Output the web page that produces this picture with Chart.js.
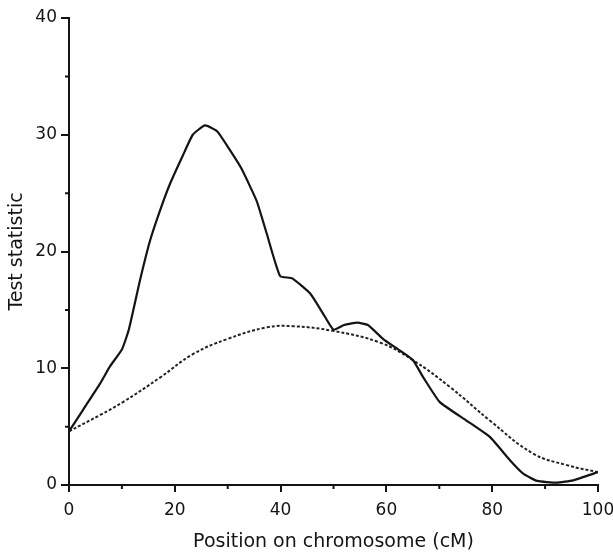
<!DOCTYPE html>
<html>
<head>
<meta charset="utf-8">
<script src="https://cdn.jsdelivr.net/npm/chart.js@4"></script>
<style>
html,body{margin:0;padding:0;background:#fff;}
#wrap{width:613px;height:553px;}
</style>
</head>
<body>
<div id="wrap"><canvas id="c" width="613" height="553"></canvas></div>
<script>
const xTicks = [0, 20, 40, 60, 80, 100];
const yTicks = [0, 10, 20, 30, 40];
const xMinor = [10, 30, 50, 70, 90];
const yMinor = [5, 15, 25, 35];

const solidX = [0, 2.6, 5.9, 7.8, 10, 11.3, 13.4, 15.3, 17.2, 19.1, 21.5, 23.4, 25.7, 28, 30.4, 32.6, 35.5, 37.4, 39.9, 42.2, 45.6, 48, 50, 52, 54.5, 56.5, 59.4, 62.6, 65, 67, 70.1, 75.2, 79.6, 83.4, 85.8, 88.5, 92.2, 95.3, 100];
const solidY = [4.6, 6.4, 8.7, 10.2, 11.6, 13.3, 17.5, 20.9, 23.5, 25.8, 28.2, 30.0, 30.8, 30.3, 28.7, 27.1, 24.3, 21.5, 17.9, 17.7, 16.4, 14.7, 13.3, 13.7, 13.9, 13.7, 12.5, 11.5, 10.7, 9.2, 7.1, 5.5, 4.1, 2.1, 1.0, 0.35, 0.2, 0.4, 1.1];

const dashX = [0, 5.9, 10.2, 17.2, 23.4, 29.9, 37.4, 42.4, 49.9, 58.8, 65, 72, 79.6, 87.7, 94.1, 100];
const dashY = [4.6, 6.0, 7.1, 9.2, 11.2, 12.5, 13.5, 13.6, 13.2, 12.2, 10.7, 8.4, 5.5, 2.7, 1.7, 1.1];

const ink = '#141414';

const minorTicks = {
  id: 'minorTicks',
  afterDraw(chart) {
    const ctx = chart.ctx;
    const xs = chart.scales.x, ys = chart.scales.y;
    const area = chart.chartArea;
    ctx.save();
    ctx.strokeStyle = ink;
    ctx.lineWidth = 2;
    ctx.beginPath();
    xMinor.forEach(v => {
      const px = xs.getPixelForValue(v);
      ctx.moveTo(px, area.bottom);
      ctx.lineTo(px, area.bottom + 4);
    });
    yMinor.forEach(v => {
      const py = ys.getPixelForValue(v);
      ctx.moveTo(area.left, py);
      ctx.lineTo(area.left - 4, py);
    });
    ctx.stroke();
    ctx.restore();
  }
};

new Chart(document.getElementById('c'), {
  type: 'scatter',
  data: {
    datasets: [
      {
        data: solidX.map((x, i) => ({x: x, y: solidY[i]})),
        showLine: true,
        borderColor: ink,
        borderWidth: 2.2,
        pointRadius: 0,
        tension: 0.15,
        fill: false
      },
      {
        data: dashX.map((x, i) => ({x: x, y: dashY[i]})),
        showLine: true,
        borderColor: '#222',
        borderWidth: 2,
        borderDash: [3, 2],
        pointRadius: 0,
        tension: 0.4,
        fill: false
      }
    ]
  },
  options: {
    responsive: false,
    animation: false,
    layout: {padding: {top: 18, right: 0, left: 0, bottom: 0}},
    plugins: {legend: {display: false}, tooltip: {enabled: false}},
    scales: {
      x: {
        type: 'linear',
        min: 0, max: 100,
        afterBuildTicks(s) { s.ticks = xTicks.map(v => ({value: v})); },
        afterFit(s) { s.height = 68; s.paddingRight = 15; s.paddingLeft = 0; },
        grid: {display: true, drawOnChartArea: false, drawTicks: true, tickLength: 7, color: ink, lineWidth: 2},
        border: {display: true, color: ink, width: 2},
        ticks: {color: ink, padding: 8, maxRotation: 0, font: {family: 'DejaVu Sans', size: 17}},
        title: {display: true, text: 'Position on chromosome (cM)', color: ink, padding: {top: 5, bottom: 0}, font: {family: 'DejaVu Sans', size: 19}}
      },
      y: {
        type: 'linear',
        min: 0, max: 40,
        afterBuildTicks(s) { s.ticks = yTicks.map(v => ({value: v})); },
        afterFit(s) { s.width = 69; },
        grid: {display: true, drawOnChartArea: false, drawTicks: true, tickLength: 8, color: ink, lineWidth: 2},
        border: {display: true, color: ink, width: 2},
        ticks: {color: ink, padding: 4, font: {family: 'DejaVu Sans', size: 17}},
        title: {display: true, text: 'Test statistic', color: ink, padding: {top: 6, bottom: 0}, font: {family: 'DejaVu Sans', size: 19}}
      }
    }
  },
  plugins: [minorTicks]
});
</script>
</body>
</html>
